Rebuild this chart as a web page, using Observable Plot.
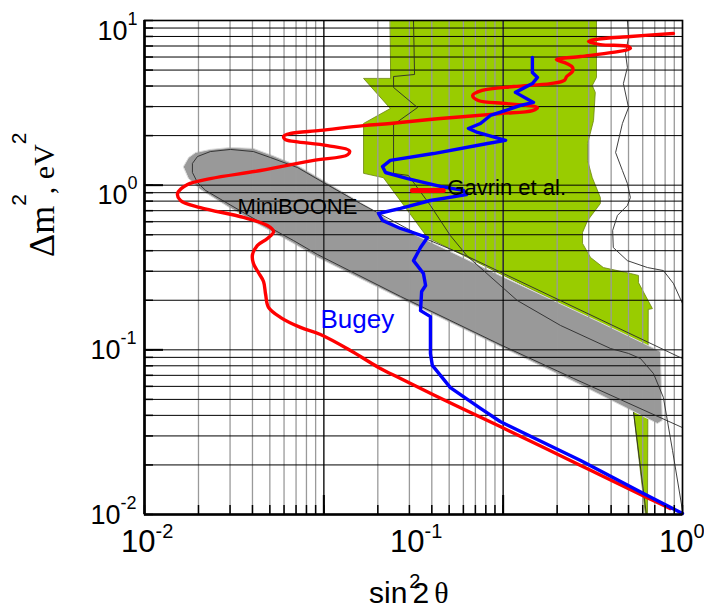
<!DOCTYPE html>
<html>
<head>
<meta charset="utf-8">
<script src="https://cdn.jsdelivr.net/npm/d3@7"></script>
<script src="https://cdn.jsdelivr.net/npm/@observablehq/plot@0.6"></script>
<style>
  html, body { margin: 0; padding: 0; background: #fff; }
  svg { display: block; }
</style>
</head>
<body>
<div id="chart"></div>
<script>
// Sterile-neutrino parameter space: [sin²2θ, Δm² (eV²)] pairs.

// Gavrin et al. allowed region (filled) and its inner contour
const gavrinRegion = [
  [0.0820,10],[0.479,10],[0.479,4.51],[0.462,4.03],[0.474,3.66],[0.467,2.47],[0.444,1.79],
  [0.444,1.41],[0.462,1.11],[0.495,0.841],[0.495,0.774],[0.444,0.610],[0.425,0.516],
  [0.425,0.443],[0.455,0.364],[0.508,0.316],[0.640,0.291],[0.686,0.283],[0.686,0.256],
  [0.773,0.178],[0.746,0.176],[0.741,0.01],[0.728,0.01],[0.658,0.0416],[0.640,0.117],
  [0.1127,0.481],[0.0773,1.11],[0.0652,1.18],[0.0652,2.37],[0.0820,2.92],[0.0652,4.45],[0.0820,4.45]
];
const gavrinInner = [
  [0.1000,10],[0.1009,4.70],[0.0843,4.57],[0.0843,3.92],[0.1035,2.96],[0.0843,2.33],
  [0.0843,1.178],[0.0957,1.146],[0.1156,0.753],[0.1371,0.494],[0.1589,0.369],[0.243,0.1995],
  [0.352,0.1406],[0.540,0.1019],[0.630,0.0951],[0.698,0.0885],[0.780,0.0718],[0.849,0.0514],
  [0.918,0.0245],[1,0.01057]
];
const gavrinTailEdge = [[0.658,0.0416],[0.734,0.01]];
const outerContour = [
  [0.624,10],[0.630,7.88],[0.614,6.31],[0.624,5.19],[0.603,4.14],[0.630,2.96],[0.598,2.37],
  [0.564,1.578],[0.598,1.227],[0.624,1.023],[0.640,0.841],[0.624,0.753],[0.573,0.655],
  [0.550,0.531],[0.553,0.418],[0.624,0.348],[0.741,0.316],[0.849,0.303],[0.925,0.253],[1,0.191]
];

// MiniBooNE allowed band and its outer contour
const miniBooneRegion = [
  [0.01396,1.297],[0.01459,1.472],[0.01549,1.578],[0.01758,1.648],[0.02089,1.694],
  [0.02541,1.671],[0.02992,1.514],[0.03707,1.315],[0.04624,1.067],[0.07228,0.692],
  [0.0895,0.546],[0.1127,0.461],[0.210,0.2825],[0.495,0.1466],[0.828,0.0977],[0.841,0.0372],
  [0.807,0.0357],[0.394,0.0643],[0.210,0.1047],[0.0895,0.205],[0.0440,0.364],[0.0358,0.443],
  [0.0270,0.569],[0.0204,0.741],[0.01614,0.942],[0.01459,1.096]
];
const miniBooneContour = [
  [1,0.0885],[0.1589,0.369],[0.1127,0.468],[0.0635,0.774],[0.04624,1.038],[0.03707,1.279],
  [0.02938,1.472],[0.02541,1.600],[0.02089,1.648],[0.01758,1.600],[0.01574,1.493],
  [0.01507,1.355],[0.01507,1.194],[0.01574,1.038],[0.01687,0.929],[0.0204,0.774],
  [0.0270,0.593],[0.0358,0.461],[0.0440,0.379],[0.0895,0.211],[0.210,0.1076],[0.394,0.0670],[1,0.0337]
];

// Red exclusion curve
const redCurve = [
  [0.925,8.34],[0.640,8.00],[0.474,7.67],[0.447,7.45],[0.495,7.14],[0.630,6.95],[0.640,6.76],
  [0.550,6.40],[0.418,6.04],[0.340,5.79],[0.371,5.48],[0.390,5.19],[0.390,4.90],[0.371,4.57],
  [0.364,4.33],[0.323,4.14],[0.236,3.97],[0.180,3.76],[0.166,3.51],[0.174,3.27],[0.223,3.13],
  [0.289,2.96],[0.277,2.84],[0.210,2.72],[0.126,2.54],[0.0820,2.37],[0.0652,2.30],[0.0451,2.15],
  [0.0349,2.06],[0.0329,1.98],[0.0334,1.89],[0.0364,1.84],[0.0479,1.74],[0.0578,1.62],
  [0.0569,1.53],[0.0421,1.41],[0.0270,1.227],[0.01758,1.096],[0.01445,1.009],[0.01327,0.889],
  [0.01361,0.807],[0.01614,0.731],[0.02333,0.637],[0.02864,0.569],[0.0302,0.524],[0.02864,0.474],
  [0.0263,0.431],[0.0252,0.379],[0.02541,0.334],[0.0265,0.295],[0.0277,0.260],[0.0282,0.217],
  [0.0289,0.181],[0.0321,0.157],[0.0380,0.1368],[0.0451,0.1239],[0.0583,0.0991],[0.0741,0.0782],
  [0.0895,0.0670],[0.1337,0.0485],[0.210,0.0342],[0.418,0.01986],[0.698,0.01321],[0.902,0.01086]
];

// Bugey exclusion curve
const bugey = [
  [0.2767,5.96],[0.2767,4.83],[0.289,4.51],[0.2767,4.14],[0.2393,3.66],[0.2793,3.18],[0.250,3.05],
  [0.1932,2.65],[0.1774,2.37],[0.160,2.21],[0.173,2.09],[0.220,1.87],[0.1884,1.79],[0.1186,1.556],
  [0.0820,1.413],[0.0767,1.297],[0.0787,1.194],[0.0951,1.096],[0.1259,0.982],[0.1535,0.929],
  [0.1574,0.877],[0.1156,0.807],[0.0895,0.722],[0.0741,0.673],[0.0767,0.610],[0.0895,0.546],
  [0.1127,0.481],[0.1062,0.418],[0.1000,0.348],[0.1089,0.291],[0.1109,0.246],[0.1072,0.226],
  [0.1062,0.173],[0.1156,0.159],[0.1156,0.0951],[0.1175,0.0804],[0.1371,0.0590],[0.1774,0.0441],
  [0.210,0.0367],[0.418,0.0213],[0.716,0.01340],[1,0.01014]
];

// Key swatch and in-plot labels
const gavrinKey = [[0.0991,0.929],[0.129,0.929]];
const regionLabels = ["MiniBOONE", "Gavrin et al."];
const regionLabelX = [0.02218, 0.1337];
const regionLabelY = [0.664, 0.877];
const bugeyLabel = ["Bugey"];
const bugeyLabelX = [0.0451];
const bugeyLabelY = [0.1349];

// Axis tick labels
const xTickValues = [0.01, 0.1, 1];
const xTickPowers = ["-2", "-1", "0"];
const yTickValues = [10, 1, 0.1, 0.01];
const yTickPowers = ["1", "0", "-1", "-2"];

// Grid: y is ruled per decade; the vertical rulings run three decades of their
// own across the two labelled decades of sin²2θ.
const gridMantissas = [1, 2, 3, 4, 5, 6, 7, 8, 9];
const gridDecades = [1, 10, 100];
const gridToX = g => 0.01 * Math.pow(g, 2 / 3);
const xGrid = gridDecades.flatMap(d => gridMantissas.map(m => gridToX(m * d))).concat([1]);
const xGridMajor = [10, 100].map(gridToX);
const yGrid = [0.01, 0.1, 1].flatMap(d => gridMantissas.map(m => m * d)).concat([10]);
const yGridMajor = [0.1, 1];

const sans = "Liberation Sans, Arial, Helvetica, sans-serif";
const serif = "Liberation Serif, Times New Roman, serif";
const px = d => d[0], py = d => d[1];

const yUpper = yTickValues.map((v, i) => ({v, p: yTickPowers[i]})).filter(d => d.v >= 1);
const yLower = yTickValues.map((v, i) => ({v, p: yTickPowers[i]})).filter(d => d.v < 1);

const chart = Plot.plot({
  width: 704,
  height: 609,
  marginTop: 20,
  marginRight: 22,
  marginBottom: 95,
  marginLeft: 144,
  style: {background: "#fff", fontFamily: sans, overflow: "visible"},
  x: {type: "log", domain: [0.01, 1], axis: null},
  y: {type: "log", domain: [0.01, 10], axis: null},
  marks: [
    // filled regions
    Plot.line(gavrinRegion, {x: px, y: py, fill: "#99cc00", stroke: "#6c8412", strokeWidth: 0.8, curve: "linear-closed"}),
    Plot.line(miniBooneRegion, {x: px, y: py, fill: "#b4b4b4", stroke: "#bdbdbd", strokeWidth: 5, curve: "linear-closed", ariaLabel: "miniboone halo"}),
    Plot.line(miniBooneRegion, {x: px, y: py, fill: "#999999", stroke: "#dcdcdc", strokeWidth: 1, curve: "linear-closed"}),

    // grid
    Plot.ruleX(xGrid, {x: d => d, stroke: "#9a9a9a", strokeWidth: 1.3}),
    Plot.ruleX(xGridMajor, {x: d => d, stroke: "#1a1a1a", strokeWidth: 1.3}),
    Plot.ruleY(yGrid, {y: d => d, stroke: "#000", strokeWidth: 1}),

    // thin contours
    Plot.line(miniBooneContour, {x: px, y: py, stroke: "#2a2a2a", strokeWidth: 0.9}),
    Plot.line(gavrinInner, {x: px, y: py, stroke: "#2a2a2a", strokeWidth: 0.9}),
    Plot.line(gavrinTailEdge, {x: px, y: py, stroke: "#2a2a2a", strokeWidth: 0.9}),
    Plot.line(outerContour, {x: px, y: py, stroke: "#2a2a2a", strokeWidth: 0.9}),

    // exclusion curves
    Plot.line(redCurve, {x: px, y: py, stroke: "#ff0000", strokeWidth: 3.4, curve: "catmull-rom"}),
    Plot.line(bugey, {x: px, y: py, stroke: "#0000ff", strokeWidth: 3.4, strokeLinejoin: "round"}),
    Plot.line(gavrinKey, {x: px, y: py, stroke: "#ff0000", strokeWidth: 5, strokeLinecap: "round"}),

    // labels inside the frame
    Plot.text(regionLabels, {x: (d, i) => regionLabelX[i], y: (d, i) => regionLabelY[i], text: d => d,
      textAnchor: "start", lineAnchor: "bottom", fontSize: 22, fontFamily: sans, fill: "#000", ariaLabel: "region labels"}),
    Plot.text(bugeyLabel, {x: (d, i) => bugeyLabelX[i], y: (d, i) => bugeyLabelY[i], text: d => d,
      textAnchor: "start", lineAnchor: "bottom", fontSize: 26, fontFamily: sans, fill: "#0000ff", ariaLabel: "bugey label"}),

    // inward ticks
    Plot.tickX(xGrid, {x: d => d, stroke: "#000", strokeWidth: 1.5, insetTop: 485}),
    Plot.tickX(xGridMajor, {x: d => d, stroke: "#000", strokeWidth: 2, insetTop: 475}),
    Plot.tickY(yGrid, {y: d => d, stroke: "#000", strokeWidth: 1.5, insetRight: 529}),
    Plot.tickY(yGridMajor, {y: d => d, stroke: "#000", strokeWidth: 2, insetRight: 519}),

    // frame
    Plot.frame({stroke: "#000", strokeWidth: 1.6}),
    Plot.ruleX([0.01], {x: d => d, stroke: "#000", strokeWidth: 2.6}),
    Plot.ruleY([0.01], {y: d => d, stroke: "#000", strokeWidth: 2.6}),

    // tick labels: 10 with a raised power
    Plot.text(xTickValues, {x: d => d, frameAnchor: "bottom", text: () => "10", textAnchor: "end",
      lineAnchor: "bottom", dx: 11, dy: 37, fontSize: 31, fontFamily: sans, fill: "#000"}),
    Plot.text(xTickValues, {x: d => d, frameAnchor: "bottom", text: (d, i) => xTickPowers[i], textAnchor: "start",
      lineAnchor: "bottom", dx: 11, dy: 23, fontSize: 20, fontFamily: sans, fill: "#000"}),
    Plot.text(yUpper, {y: d => d.v, frameAnchor: "left", text: () => "10", textAnchor: "end",
      lineAnchor: "bottom", dx: -17, dy: 19, fontSize: 27, fontFamily: sans, fill: "#000"}),
    Plot.text(yUpper, {y: d => d.v, frameAnchor: "left", text: d => d.p, textAnchor: "start",
      lineAnchor: "bottom", dx: -17, dy: 4, fontSize: 18, fontFamily: sans, fill: "#000"}),
    Plot.text(yLower, {y: d => d.v, frameAnchor: "left", text: () => "10", textAnchor: "end",
      lineAnchor: "bottom", dx: -24, dy: 9, fontSize: 27, fontFamily: sans, fill: "#000"}),
    Plot.text(yLower, {y: d => d.v, frameAnchor: "left", text: d => d.p, textAnchor: "start",
      lineAnchor: "bottom", dx: -24, dy: -6, fontSize: 18, fontFamily: sans, fill: "#000"})
  ]
});

const svg = d3.select(chart);

// soft edge around the MiniBooNE band
svg.insert("defs", ":first-child")
  .append("filter").attr("id", "soft-edge")
  .attr("x", "-10%").attr("y", "-10%").attr("width", "120%").attr("height", "120%")
  .append("feGaussianBlur").attr("stdDeviation", 2.5);
svg.select('g[aria-label="miniboone halo"]').attr("filter", "url(#soft-edge)");

// stretch the in-plot labels to their printed widths
const labelWidths = [135, 135];
svg.selectAll('g[aria-label="region labels"] text')
  .attr("textLength", (d, i) => labelWidths[i]).attr("lengthAdjust", "spacingAndGlyphs");
svg.selectAll('g[aria-label="bugey label"] text')
  .attr("textLength", 88).attr("lengthAdjust", "spacingAndGlyphs");

// axis titles
const xTitle = svg.append("text")
  .attr("x", 369).attr("y", 603).attr("text-anchor", "start")
  .attr("font-family", sans).attr("font-size", 30).attr("fill", "#000");
xTitle.append("tspan").text("sin");
xTitle.append("tspan").attr("font-size", 20).attr("dx", 2).attr("dy", -15).text("2");
xTitle.append("tspan").attr("dx", -8).attr("dy", 15).text("2");
xTitle.append("tspan").attr("font-family", serif).attr("dx", 5).text("θ");

const yTitle = svg.append("text")
  .attr("transform", "translate(54,257) rotate(-90)").attr("text-anchor", "start")
  .attr("font-family", serif).attr("font-size", 36).attr("fill", "#000");
yTitle.append("tspan").text("Δm");
yTitle.append("tspan").attr("font-family", sans).attr("font-size", 21).attr("dy", -28).text("2");
yTitle.append("tspan").attr("font-size", 30).attr("dy", 28).text(", eV");
yTitle.append("tspan").attr("font-family", sans).attr("font-size", 21).attr("dy", -28).text("2");

document.getElementById("chart").append(chart);
</script>
</body>
</html>
